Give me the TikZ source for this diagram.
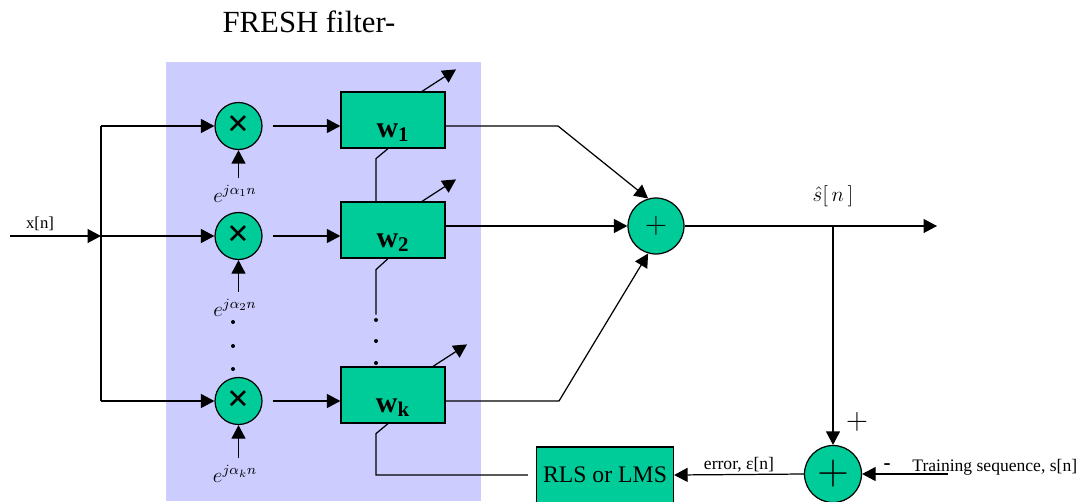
\documentclass[tikz,border=0pt]{standalone}
\usepackage{fontspec}
\setmainfont{Liberation Serif}
\usetikzlibrary{arrows.meta,calc}
\definecolor{fresh}{HTML}{CCCCFF}
\definecolor{blockgreen}{HTML}{00CC99}

\begin{document}
\begin{tikzpicture}[
    x=0.02cm, y=-0.02cm,
    line width=0.7pt,
    sig/.style={-{Triangle[length=0.27cm,width=0.28cm]}},
    mult/.style={circle, draw, fill=blockgreen, minimum size=0.94cm, inner sep=0pt, font=\fontsize{22}{22}\selectfont\bfseries},
    adder/.style={circle, draw, fill=blockgreen, minimum size=1.12cm, inner sep=0pt},
    weight/.style={rectangle, draw, fill=blockgreen, minimum width=2.08cm, minimum height=1.12cm, inner sep=0pt, text height=0.68cm, text depth=0pt, font=\fontsize{17}{17}\selectfont\bfseries},
    lbl/.style={font=\fontsize{10}{12}\selectfont, inner sep=1pt}
]
\useasboundingbox (0,0) rectangle (1081,501);

% FRESH filter region
\fill[fresh] (166,62) rectangle (481,501);
\node[font=\fontsize{17.5}{20}\selectfont] (title) at (309,22) {FRESH filter-};

% Input and bus
\node[lbl, font=\fontsize{9.5}{11}\selectfont] (xlbl) at (40,224) {x[n]};
\coordinate (in) at (10,236);
\coordinate (bus) at (101,236);
\draw[sig] (in) -- (bus);

% Multipliers
\node[mult] (m1) at (238.5,126) {×};
\node[mult] (m2) at (238.5,236) {×};
\node[mult] (mk) at (238.5,401) {×};
\draw (bus |- m1) -- (bus |- mk);
\foreach \m in {m1,m2,mk} {
    \draw[sig] (bus |- \m) -- (\m);
}

% Exponentials
\node[font=\fontsize{12}{12}\selectfont, inner sep=1pt] (e1) at (235,194) {$e^{j\alpha_1 n}$};
\node[font=\fontsize{12}{12}\selectfont, inner sep=1pt] (e2) at (235,308) {$e^{j\alpha_2 n}$};
\node[font=\fontsize{12}{12}\selectfont, inner sep=1pt] (ek) at (235,474) {$e^{j\alpha_k n}$};
\foreach \e/\m in {e1/m1, e2/m2, ek/mk} {
    \draw[sig] ([yshift=3pt]\e.north -| \m) -- (\m.south);
}
\foreach \y in {322,346,369} {
    \fill (233,\y) circle[radius=0.04cm];
}

% Weights
\node[weight] (w1) at (393,120) {w\textsubscript{1}};
\node[weight] (w2) at (393,230) {w\textsubscript{2}};
\node[weight] (wk) at (393,395) {w\textsubscript{k}};
\foreach \m/\w in {m1/w1, m2/w2, mk/wk} {
    \draw[sig] ([xshift=0.2cm]\m.east) -- (\m -| \w.west);
}

% Adjustment arrows
\foreach \w/\dx in {w1/29, w2/29, wk/40} {
    \draw[sig] ($(\w.north)+(\dx,0)$) -- ++(34,-22);
}

% Links between weights
\draw ($(w1.south)+(-5,0)$) -- ++(-12,10) -- ($(w2.north)+(-17,0)$);
\draw ($(w2.south)+(-5,0)$) -- ++(-12,11) -- ++(0,45);
\foreach \y in {320,341,363} {
    \fill (376,\y) circle[radius=0.04cm];
}

% Summer
\node[adder, font=\fontsize{18}{18}\selectfont] (sum) at (656,226) {$+$};
\coordinate (k1) at (558,126);
\coordinate (kk) at (559,401);
\draw[sig] (m1 -| w1.east) -- (k1) -- (sum.106);
\draw[sig] (sum -| w2.east) -- (sum.west);
\draw[sig] (mk -| wk.east) -- (kk) -- (sum.254);

% Output
\coordinate (out) at (937,226);
\draw[sig] (sum.east) -- (out);
\node[font=\fontsize{12}{12}\selectfont] (shat) at (833,196) {$\hat{s}[\,n\,]$};

% Error
\node[adder, minimum size=1.14cm, font=\fontsize{23}{23}\selectfont] (err) at (833,474) {$+$};
\draw[sig] (sum -| err) -- (err.north);
\node[font=\fontsize{16}{16}\selectfont] (plus) at (857,422) {$+$};
\node[font=\fontsize{12}{12}\selectfont\bfseries] (minus) at (887,467) {-};
\coordinate (train) at (948,474);
\draw[sig] (train) -- (err.east);
\node[lbl, anchor=west] (trainlbl) at (910,467) {Training sequence, s[n]};

% Adaptive algorithm
\node[rectangle, draw, fill=blockgreen, minimum width=2.74cm, minimum height=1.12cm, inner sep=0pt, font=\fontsize{13.5}{14}\selectfont] (rls) at (605,475) {RLS or LMS};
\draw[sig] (err.west) -- (rls.east) node[midway, above, lbl] {error, ε[n]};
\draw ($(wk.south)+(-5,0)$) -- ++(-12,10) |- ([xshift=-0.16cm]rls.west);

\end{tikzpicture}
\end{document}
